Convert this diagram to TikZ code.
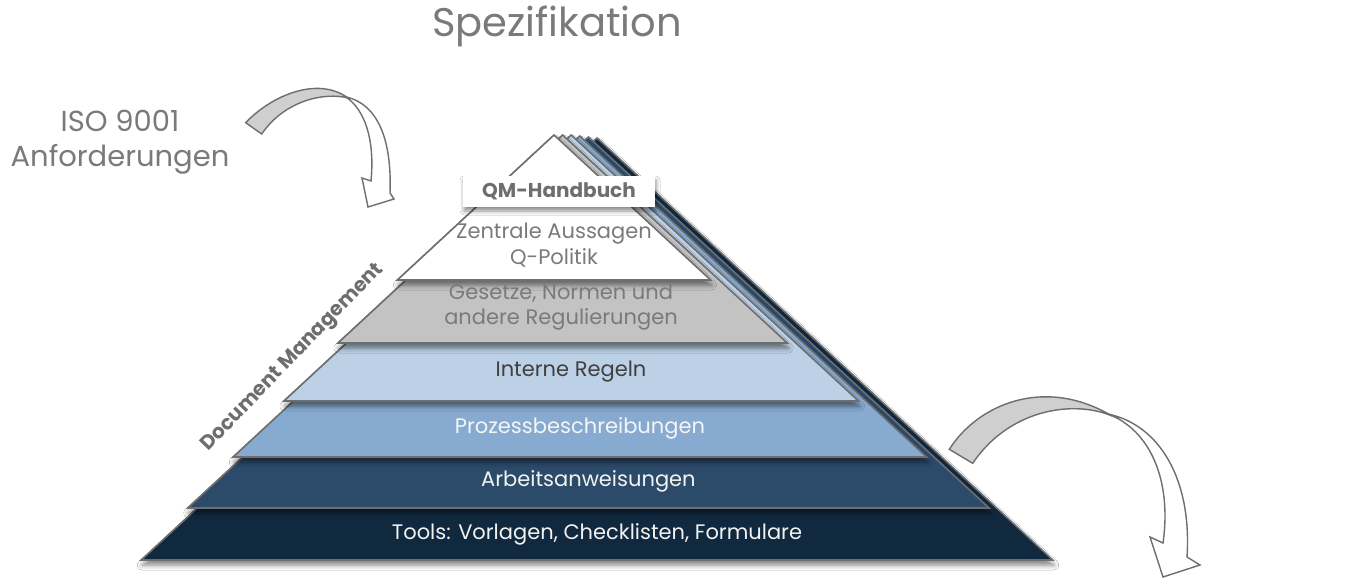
\documentclass[tikz,border=0pt]{standalone}
\usepackage{fontspec}
\setmainfont{Poppins}
\usetikzlibrary{shadows.blur}
\definecolor{cNavy}{HTML}{10293F}
\definecolor{cDark}{HTML}{2C4A69}
\definecolor{cMid}{HTML}{87AAD0}
\definecolor{cLight}{HTML}{BCD0E6}
\definecolor{cGray}{HTML}{C3C3C3}
\definecolor{cWhite}{HTML}{FFFFFF}
\definecolor{cOutl}{HTML}{6E6E6E}
\definecolor{cTxt}{HTML}{7A7A7A}
\definecolor{cTxtDark}{HTML}{404040}
\definecolor{cArrow}{HTML}{CFCFCF}
\tikzset{
  layer/.style={draw=cOutl, line width=1.6pt, line join=miter,
    blur shadow={shadow xshift=1pt, shadow yshift=-5pt, shadow blur radius=5pt, shadow opacity=50}},
  lbl/.style={font=\fontsize{21}{25}\selectfont, align=center, inner sep=0pt},
  bandarrow/.style={draw=cOutl, line width=1.4pt, line join=miter},
}
\begin{document}
\begin{tikzpicture}[x=1pt,y=-1pt]
\useasboundingbox[fill=white] (0,0) rectangle (1354,578);

% pyramid layers, back to front
\foreach \k/\col/\ay/\by in {5/cNavy/138/560, 4/cDark/137/508, 3/cMid/136/457, 2/cLight/135/401, 1/cGray/135/343, 0/cWhite/135/280}{
  \pgfmathsetmacro\ax{554+8.6*\k}
  \pgfmathsetmacro\hw{1.08*(\by-\ay)}
  \draw[layer, fill=\col] (\ax,\ay) -- (\ax-\hw,\by) -- (\ax+\hw,\by) -- cycle;
}

% QM-Handbuch box
\node[fill=white, minimum width=192pt, minimum height=31pt, inner sep=0pt,
  blur shadow={shadow xshift=1pt, shadow yshift=-4pt, shadow blur radius=4pt, shadow opacity=45},
  font=\fontsize{20}{22}\selectfont\bfseries, text=cOutl] (qm) at (559,191.5) {QM-Handbuch};

% band labels
\node[lbl, text=white!95!black] (tools) at (597,534) {Tools: Vorlagen, Checklisten, Formulare};
\node[lbl, text=white!95!black] (arb) at (588.4,481) {Arbeitsanweisungen};
\node[lbl, text=white!96!black] (proz) at (580,428) {Prozessbeschreibungen};
\node[lbl, text=cTxtDark] (intern) at (571,372) {Interne Regeln};
\node[lbl, text=cTxt] (gesetze) at (561,307) {Gesetze, Normen und\\andere Regulierungen};
\node[lbl, text=cTxt, font=\fontsize{21}{26}\selectfont] (zentral) at (554,245) {Zentrale Aussagen\\Q-Politik};

% title and side texts
\node[anchor=base, font=\fontsize{40}{48}\selectfont, text=cTxt, inner sep=0pt] (title) at (557,37) {Spezifikation};
\node[align=center, anchor=base, font=\fontsize{29}{35}\selectfont, text=cTxt, inner sep=0pt] (iso) at (120,166.7) {ISO 9001\\Anforderungen};
\node[rotate=46, font=\fontsize{20}{22}\selectfont\bfseries, text=cOutl, inner sep=0pt] (dm) at (293,358) {Document Management};

% curved arrow 1 (top left)
\coordinate (a1t1) at (245.7,122.7);
\coordinate (a1t2) at (261.7,134);
\coordinate (a1p) at (348,98);
\draw[bandarrow, fill=cArrow] (a1t1) .. controls (272,95) and (318,76) .. (a1p)
   .. controls (325,92) and (285,100) .. (a1t2) -- cycle;
\draw[bandarrow, fill=white] (346,97) .. controls (378,104) and (392,140) .. (390,193)
   -- (394,199) -- (368,207) -- (362,178) -- (371,181)
   .. controls (375,140) and (365,110) .. (346,97) -- cycle;

% curved arrow 2 (bottom right)
\coordinate (a2t1) at (949.3,449.3);
\coordinate (a2t2) at (972.7,463.3);
\coordinate (a2p) at (1112,416);
\draw[bandarrow, fill=cArrow] (a2t1) .. controls (978,404) and (1045,376) .. (a2p)
   .. controls (1075,400) and (1010,408) .. (a2t2) -- cycle;
\draw[bandarrow, fill=white] (1108,414) .. controls (1160,425) and (1192,480) .. (1187,557)
   -- (1200,565) -- (1163,577) -- (1150,537) -- (1163,543)
   .. controls (1172,480) and (1150,430) .. (1108,414) -- cycle;
\end{tikzpicture}
\end{document}
